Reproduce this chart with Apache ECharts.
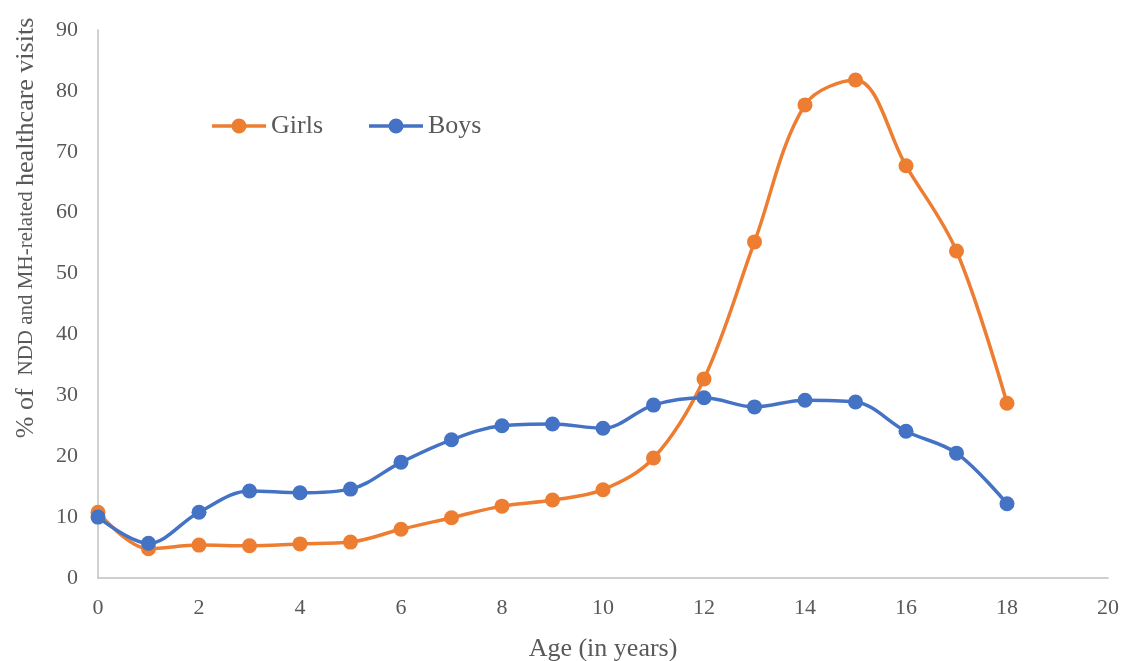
<!DOCTYPE html>
<html>
<head>
<meta charset="utf-8">
<script src="https://cdn.jsdelivr.net/npm/echarts@6/dist/echarts.min.js"></script>
<style>
  html, body { margin: 0; padding: 0; background: #fff; }
  #chart { width: 1127px; height: 661px; }
</style>
</head>
<body>
<div id="chart"></div>
<script>
// Age in years
const ages = [0, 1, 2, 3, 4, 5, 6, 7, 8, 9, 10, 11, 12, 13, 14, 15, 16, 17, 18];
// % of NDD and MH-related healthcare visits
const girls = [10.8, 4.8, 5.4, 5.3, 5.6, 5.9, 8.0, 9.9, 11.8, 12.8, 14.5, 19.7, 32.7, 55.2, 77.7, 81.8, 67.7, 53.7, 28.7];
const boys  = [10.0, 5.7, 10.8, 14.3, 14.0, 14.6, 19.0, 22.7, 25.0, 25.3, 24.6, 28.4, 29.6, 28.1, 29.2, 28.9, 24.1, 20.5, 12.2];

const serif = '"Liberation Serif", "Times New Roman", serif';
const textColor = '#595959';

// legend glyph: thick line segment with a dot in the middle
const lineDotIcon = 'path://M0,5.75 H54 V9.25 H0 Z M19.5,7.5 A7.5,7.5 0 1,1 34.5,7.5 A7.5,7.5 0 1,1 19.5,7.5 Z';

const chart = echarts.init(document.getElementById('chart'), null, { renderer: 'canvas' });

function pairs(ys) {
  return ages.map((a, i) => [a, ys[i]]);
}

function lineSeries(name, ys, color) {
  return {
    name: name,
    type: 'line',
    data: pairs(ys),
    smooth: 0.35,
    symbol: 'circle',
    symbolSize: 15,
    lineStyle: { color: color, width: 3.5 },
    itemStyle: { color: color },
    emphasis: { disabled: true },
    z: name === 'Boys' ? 3 : 2
  };
}

chart.setOption({
  animation: false,
  backgroundColor: '#fff',
  grid: { left: 98, right: 19, top: 30, bottom: 83, containLabel: false, outerBoundsMode: 'none' },
  legend: {
    left: 207,
    top: 108,
    icon: lineDotIcon,
    itemWidth: 54,
    itemHeight: 15,
    itemGap: 46,
    textStyle: { fontFamily: serif, fontSize: 26, color: textColor },
    data: ['Girls', 'Boys']
  },
  xAxis: {
    type: 'value',
    min: 0,
    max: 20,
    interval: 2,
    name: 'Age (in years)',
    nameLocation: 'middle',
    nameGap: 58,
    nameTextStyle: { fontFamily: serif, fontSize: 26, color: textColor },
    axisLine: { show: true, lineStyle: { color: '#c0c0c0', width: 1.5 } },
    axisTick: { show: false },
    splitLine: { show: false },
    axisLabel: { fontFamily: serif, fontSize: 22, color: textColor, margin: 19 }
  },
  yAxis: {
    type: 'value',
    min: 0,
    max: 90,
    interval: 10,
    axisLine: { show: true, lineStyle: { color: '#c0c0c0', width: 1.5 } },
    axisTick: { show: false },
    splitLine: { show: false },
    axisLabel: { fontFamily: serif, fontSize: 22, color: textColor, margin: 20 }
  },
  graphic: [{
    type: 'text',
    x: 26,
    y: 228,
    rotation: Math.PI / 2,
    style: {
      text: '{a|% of  }{b|NDD and MH-related }{a|healthcare visits}',
      align: 'center',
      verticalAlign: 'middle',
      fill: textColor,
      rich: {
        a: { fontFamily: serif, fontSize: 26, fill: textColor },
        b: { fontFamily: serif, fontSize: 21, fill: textColor }
      }
    }
  }],
  series: [
    lineSeries('Girls', girls, '#ED7D31'),
    lineSeries('Boys', boys, '#4472C4')
  ]
});
</script>
</body>
</html>
